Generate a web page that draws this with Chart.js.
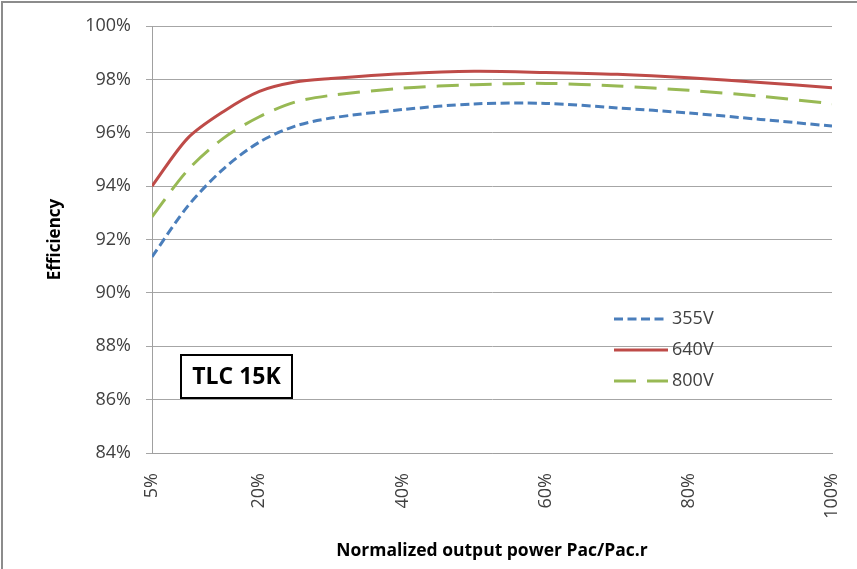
<!DOCTYPE html>
<html>
<head>
<meta charset="utf-8">
<title>TLC 15K efficiency</title>
<script src="https://cdn.jsdelivr.net/npm/chart.js@4"></script>
<style>
  html, body { margin: 0; padding: 0; background: #fff; }
  #wrap { width: 857px; height: 569px; position: relative; }
</style>
</head>
<body>
<div id="wrap"><canvas id="effChart"></canvas></div>
<script>
// load points (% of rated AC power) and efficiency per DC voltage
const loadPct = [5, 10, 15, 20, 25, 30, 40, 50, 60, 70, 80, 90, 100];
const eff355 = [91.35, 93.25, 94.65, 95.65, 96.25, 96.55, 96.87, 97.08, 97.1, 96.93, 96.74, 96.5, 96.25];
const eff640 = [94.0, 95.8, 96.8, 97.55, 97.9, 98.03, 98.21, 98.3, 98.26, 98.19, 98.06, 97.88, 97.69];
const eff800 = [92.85, 94.6, 95.8, 96.6, 97.15, 97.4, 97.67, 97.8, 97.85, 97.75, 97.59, 97.37, 97.09];
const seriesNames = ['355V', '640V', '800V'];
const xTicks = [5, 20, 40, 60, 80, 100];
const modelName = 'TLC 15K';

const FONT = "'Open Sans', 'DejaVu Sans', sans-serif";

const pts = ys => loadPct.map((x, i) => ({ x: x, y: ys[i] }));

// thin frame along the top and left edge
const framePlugin = {
  id: 'frame',
  afterDraw(chart) {
    const c = chart.ctx;
    c.save();
    c.strokeStyle = '#8c8c8c';
    c.lineWidth = 2;
    c.beginPath();
    c.moveTo(chart.width, 2);
    c.lineTo(2, 2);
    c.lineTo(2, chart.height);
    c.stroke();
    c.restore();
  }
};

// boxed model name in the lower left of the plot
const modelBox = {
  id: 'modelBox',
  afterDraw(chart) {
    const c = chart.ctx;
    const a = chart.chartArea;
    const x = a.left + 29, y = a.top + 329, w = 111, h = 43;
    c.save();
    c.fillStyle = '#fff';
    c.fillRect(x, y, w, h);
    c.strokeStyle = '#000';
    c.lineWidth = 2;
    c.strokeRect(x, y, w, h);
    c.fillStyle = '#000';
    c.font = "bold 23px " + FONT;
    c.textAlign = 'center';
    c.textBaseline = 'middle';
    c.fillText(modelName, x + w / 2, y + h / 2 + 1);
    c.restore();
  }
};

// legend drawn inside the plot area, one row per dataset
const innerLegend = {
  id: 'innerLegend',
  afterDraw(chart) {
    const c = chart.ctx;
    const a = chart.chartArea;
    const x0 = a.left + 462, lineLen = 54, rowH = 31;
    let y = a.top + 293;
    c.save();
    chart.data.datasets.forEach(ds => {
      c.strokeStyle = ds.borderColor;
      c.lineWidth = ds.borderWidth;
      c.setLineDash(ds.borderDash || []);
      c.beginPath();
      c.moveTo(x0, y);
      c.lineTo(x0 + lineLen, y);
      c.stroke();
      c.setLineDash([]);
      c.fillStyle = '#404040';
      c.font = "18px " + FONT;
      c.textBaseline = 'middle';
      c.fillText(ds.label, x0 + lineLen + 4, y);
      y += rowH;
    });
    c.restore();
  }
};

new Chart(document.getElementById('effChart'), {
  type: 'line',
  data: {
    datasets: [
      {
        label: seriesNames[0],
        data: pts(eff355),
        borderColor: '#4a7ebb',
        borderWidth: 3,
        borderDash: [9, 4.5]
      },
      {
        label: seriesNames[1],
        data: pts(eff640),
        borderColor: '#be4b48',
        borderWidth: 3
      },
      {
        label: seriesNames[2],
        data: pts(eff800),
        borderColor: '#98b954',
        borderWidth: 3,
        borderDash: [22, 11]
      }
    ]
  },
  options: {
    responsive: true,
    maintainAspectRatio: false,
    animation: false,
    layout: { padding: { top: 26, right: 25, left: 0, bottom: 0 } },
    elements: {
      point: { radius: 0 },
      line: { tension: 0.3, fill: false, borderCapStyle: 'butt' }
    },
    plugins: {
      legend: { display: false },
      tooltip: { enabled: false }
    },
    scales: {
      x: {
        type: 'linear',
        min: 5,
        max: 100,
        afterBuildTicks: s => { s.ticks = xTicks.map(v => ({ value: v })); },
        afterFit: s => {
          s.height = 116;
          // rotated end labels should not push the plot inwards
          s.paddingLeft = 0;
          s.paddingRight = 0;
        },
        grid: { display: false, drawTicks: false },
        border: { color: '#a0a0a0', width: 1 },
        ticks: {
          minRotation: 90,
          maxRotation: 90,
          padding: 20,
          color: '#404040',
          font: { family: FONT, size: 18 },
          callback: v => v + '%'
        },
        title: {
          display: true,
          text: 'Normalized output power Pac/Pac.r',
          color: '#000',
          font: { family: FONT, size: 17.5, weight: 'bold' },
          padding: { top: 0, bottom: 7 }
        }
      },
      y: {
        min: 84,
        max: 100,
        afterFit: s => { s.width = 152; },
        grid: { color: '#a6a6a6', lineWidth: 1, tickLength: 6, drawTicks: true },
        border: { color: '#a0a0a0', width: 1 },
        ticks: {
          stepSize: 2,
          padding: 15,
          color: '#404040',
          font: { family: FONT, size: 18 },
          callback: v => v + '%'
        },
        title: {
          display: true,
          text: 'Efficiency',
          color: '#000',
          font: { family: FONT, size: 17, weight: 'bold' },
          padding: { top: 45, bottom: 0 }
        }
      }
    }
  },
  plugins: [framePlugin, modelBox, innerLegend]
});
</script>
</body>
</html>
